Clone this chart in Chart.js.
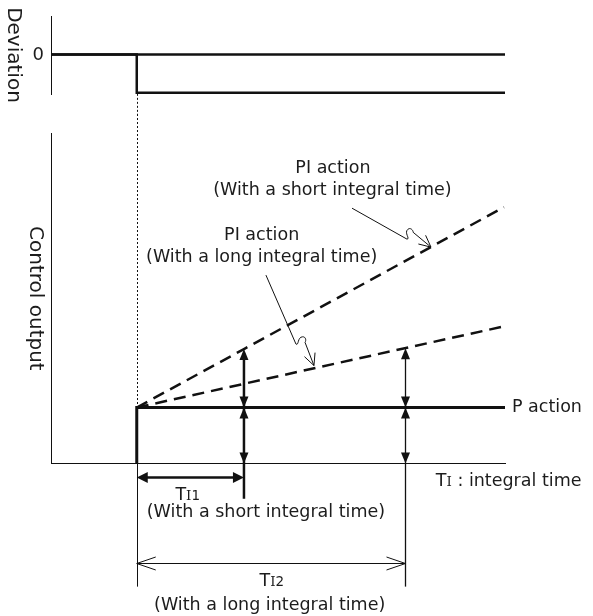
<!DOCTYPE html>
<html>
<head>
<meta charset="utf-8">
<script src="https://cdn.jsdelivr.net/npm/chart.js@4.4.1/dist/chart.umd.min.js"></script>
<style>
  html, body { margin: 0; padding: 0; background: #fff; }
  #wrap { position: relative; width: 593px; height: 616px; }
  canvas { position: absolute; left: 0; }
  #devChart { top: 0; }
  #outChart { top: 114px; }
</style>
</head>
<body>
<div id="wrap">
  <canvas id="devChart" width="593" height="114"></canvas>
  <canvas id="outChart" width="593" height="502"></canvas>
</div>
<script>
// Time axis (arbitrary units); the step change happens at t = 0
const timeRange = [-1.6, 6.87];
const stepTime = 0;
const integralTimes = [2, 5];            // TI1 (short), TI2 (long)

// Deviation panel
const deviationRange = [-1.03, 1.0];
const deviationTicks = [0];
const zeroLevel = [{ x: -1.6, y: 0 }, { x: 6.87, y: 0 }];
const deviation = [{ x: -1.6, y: 0 }, { x: 0, y: 0 }, { x: 0, y: -1 }, { x: 6.87, y: -1 }];

// Control output panel
const outputRange = [0, 5.9];
const pAction = [{ x: 0, y: 0 }, { x: 0, y: 1 }, { x: 6.87, y: 1 }];
const piShort = [{ x: 0, y: 1 }, { x: 2, y: 2.045 }, { x: 6.85, y: 4.58 }];
const piLong = [{ x: 0, y: 1 }, { x: 5, y: 2.06 }, { x: 6.85, y: 2.45 }];

const INK = '#111';
const TEXT = '#1c1c1c';
const FACE = '"DejaVu Sans", "Liberation Sans", sans-serif';
const SERIF = '"DejaVu Serif", "Liberation Serif", serif';
const LABEL = '17.5px ' + FACE;

function outputAt(series, t) {
  const p = series.find(d => d.x === t);
  return p ? p.y : null;
}

function filledHead(ctx, x, y, dir, len, half) {
  // tip at (x, y); dir = unit vector the head points to
  const bx = x - dir[0] * len, by = y - dir[1] * len;
  const nx = -dir[1], ny = dir[0];
  ctx.beginPath();
  ctx.moveTo(x, y);
  ctx.lineTo(bx + nx * half, by + ny * half);
  ctx.lineTo(bx - nx * half, by - ny * half);
  ctx.closePath();
  ctx.fill();
}

function openHead(ctx, x, y, dir, len, half) {
  const bx = x - dir[0] * len, by = y - dir[1] * len;
  const nx = -dir[1], ny = dir[0];
  ctx.beginPath();
  ctx.moveTo(bx + nx * half, by + ny * half);
  ctx.lineTo(x, y);
  ctx.lineTo(bx - nx * half, by - ny * half);
  ctx.stroke();
}

function line(ctx, x1, y1, x2, y2, w, dash) {
  ctx.save();
  ctx.lineWidth = w;
  if (dash) ctx.setLineDash(dash);
  ctx.beginPath();
  ctx.moveTo(x1, y1);
  ctx.lineTo(x2, y2);
  ctx.stroke();
  ctx.restore();
}

// "T" with a small serif "I" and optional index, e.g. TI1
function tiLabel(ctx, cx, cy, sub, rest, align) {
  const parts = [
    { t: 'T', f: LABEL },
    { t: 'I', f: '13.5px ' + SERIF },
  ];
  if (sub) parts.push({ t: sub, f: '13.5px ' + FACE });
  if (rest) parts.push({ t: rest, f: LABEL });
  let total = 0;
  parts.forEach(p => { ctx.font = p.f; p.w = ctx.measureText(p.t).width; total += p.w; });
  let x = align === 'left' ? cx : cx - total / 2;
  ctx.textAlign = 'left';
  ctx.textBaseline = 'alphabetic';
  const base = cy + 6.5;
  parts.forEach(p => { ctx.font = p.f; ctx.fillText(p.t, x, base); x += p.w; });
}

// leader line with a small zig-zag kink and an open arrow head at the tip
function leader(ctx, p0, q, p1) {
  const dx = q[0] - p0[0], dy = q[1] - p0[1];
  const L = Math.hypot(dx, dy);
  const d = [dx / L, dy / L];
  const n = [d[1], -d[0]];
  const P = (a, b) => [q[0] + d[0] * a + n[0] * b, q[1] + d[1] * a + n[1] * b];
  const c1 = P(3, 2), c2 = P(-6, 4), k = P(-4, 9);
  const c3 = P(-3, 12), c4 = P(1, 11), k2 = P(2, 9);
  ctx.save();
  ctx.lineWidth = 1;
  ctx.beginPath();
  ctx.moveTo(p0[0], p0[1]);
  ctx.lineTo(q[0], q[1]);
  ctx.bezierCurveTo(c1[0], c1[1], c2[0], c2[1], k[0], k[1]);
  ctx.bezierCurveTo(c3[0], c3[1], c4[0], c4[1], k2[0], k2[1]);
  ctx.lineTo(p1[0], p1[1]);
  ctx.stroke();
  const ex = p1[0] - k2[0], ey = p1[1] - k2[1];
  const el = Math.hypot(ex, ey);
  const e = [ex / el, ey / el];
  const h = 13, a = 0.45;
  const back = s => [p1[0] - h * (e[0] * Math.cos(s) - e[1] * Math.sin(s)),
                     p1[1] - h * (e[1] * Math.cos(s) + e[0] * Math.sin(s))];
  const l = back(a), r = back(-a);
  ctx.beginPath();
  ctx.moveTo(l[0], l[1]);
  ctx.lineTo(p1[0], p1[1]);
  ctx.lineTo(r[0], r[1]);
  ctx.stroke();
  ctx.restore();
}

const baseOptions = (padding) => ({
  responsive: false,
  animation: false,
  events: [],
  layout: { padding },
  plugins: { legend: { display: false }, tooltip: { enabled: false } },
  elements: { point: { radius: 0 }, line: { tension: 0 } }
});

// ---------- Deviation panel ----------
const deviationDecor = {
  id: 'deviationDecor',
  afterDraw(chart) {
    const { ctx, chartArea, scales } = chart;
    ctx.save();
    ctx.fillStyle = TEXT;
    ctx.strokeStyle = INK;
    // onset marker, continued into the output panel
    const x0 = Math.round(scales.x.getPixelForValue(stepTime)) + 0.5;
    line(ctx, x0, scales.y.getPixelForValue(-1) + 1, x0, chart.height, 1, [2, 2]);
    // tick labels
    ctx.font = '18px ' + FACE;
    ctx.textAlign = 'right';
    ctx.textBaseline = 'middle';
    deviationTicks.forEach(v => ctx.fillText(String(v), chartArea.left - 7, scales.y.getPixelForValue(v) + 1));
    // axis title, reading top to bottom
    ctx.translate(13, (chartArea.top + chartArea.bottom) / 2);
    ctx.rotate(Math.PI / 2);
    ctx.font = '20px ' + FACE;
    ctx.textAlign = 'center';
    ctx.textBaseline = 'middle';
    ctx.fillText('Deviation', 0, 0);
    ctx.restore();
  }
};

new Chart(document.getElementById('devChart'), {
  type: 'line',
  data: {
    datasets: [
      { data: zeroLevel, borderColor: INK, borderWidth: 2.5, clip: false },
      { data: deviation, borderColor: INK, borderWidth: 2.5, clip: false }
    ]
  },
  options: Object.assign(baseOptions({ left: 51, right: 88, top: 16, bottom: 20 }), {
    scales: {
      x: { type: 'linear', min: timeRange[0], max: timeRange[1], display: false },
      y: {
        type: 'linear', min: deviationRange[0], max: deviationRange[1],
        afterFit: s => { s.width = 0; },
        grid: { display: false, drawTicks: false },
        border: { display: true, color: INK, width: 1 },
        ticks: { display: false }
      }
    }
  }),
  plugins: [deviationDecor]
});

// ---------- Control output panel ----------
const outputDecor = {
  id: 'outputDecor',
  afterDraw(chart) {
    const { ctx, chartArea, scales } = chart;
    const X = v => scales.x.getPixelForValue(v);
    const Y = v => scales.y.getPixelForValue(v);
    ctx.save();
    ctx.fillStyle = INK;
    ctx.strokeStyle = INK;

    const x0 = Math.round(X(stepTime)) + 0.5;
    // onset marker from the top of the panel down to the P step
    line(ctx, x0, 0, x0, Y(1) - 2, 1, [2, 2]);
    // extension line below the time axis
    line(ctx, x0, Y(0), x0, Y(-2.2), 1);

    // TI1: output doubled after the short integral time
    const [ti1, ti2] = integralTimes;
    const top1 = outputAt(piShort, ti1);
    const x1 = X(ti1);
    line(ctx, x1, Y(top1) + 4, x1, Y(-0.63), 2.5);
    filledHead(ctx, x1, Y(0), [0, 1], 11, 4.5);
    filledHead(ctx, x1, Y(1), [0, -1], 11, 4.5);
    filledHead(ctx, x1, Y(1), [0, 1], 11, 4.5);
    filledHead(ctx, x1, Y(top1), [0, -1], 11, 4.5);
    // TI1 dimension
    const yd1 = Y(-0.25);
    line(ctx, X(stepTime) + 6, yd1, x1 - 6, yd1, 2.5);
    filledHead(ctx, X(stepTime), yd1, [-1, 0], 11, 5.5);
    filledHead(ctx, x1, yd1, [1, 0], 11, 5.5);

    // TI2: output doubled after the long integral time
    const top2 = outputAt(piLong, ti2);
    const x2 = Math.round(X(ti2)) + 0.5;
    line(ctx, x2, Y(top2) + 4, x2, Y(-2.2), 1.3);
    filledHead(ctx, x2, Y(0), [0, 1], 11, 4.5);
    filledHead(ctx, x2, Y(1), [0, -1], 11, 4.5);
    filledHead(ctx, x2, Y(1), [0, 1], 11, 4.5);
    filledHead(ctx, x2, Y(top2), [0, -1], 11, 4.5);
    // TI2 dimension
    const yd2 = Math.round(Y(-1.78)) + 0.5;
    line(ctx, X(stepTime), yd2, x2, yd2, 1);
    ctx.lineWidth = 1;
    openHead(ctx, X(stepTime), yd2, [-1, 0], 19, 6.5);
    openHead(ctx, x2, yd2, [1, 0], 19, 6.5);

    // leaders from the labels to the PI curves
    leader(ctx, [X(4.016), Y(4.562)], [X(5.041), Y(4.009)], [X(5.489), Y(3.866)]);
    leader(ctx, [X(2.41), Y(3.366)], [X(2.97), Y(2.134)], [X(3.306), Y(1.75)]);

    // labels
    ctx.fillStyle = TEXT;
    ctx.font = LABEL;
    ctx.textAlign = 'center';
    ctx.textBaseline = 'middle';
    ctx.fillText('PI action', X(3.66), Y(5.28));
    ctx.fillText('(With a short integral time)', X(3.65), Y(4.88));
    ctx.fillText('PI action', X(2.33), Y(4.08));
    ctx.fillText('(With a long integral time)', X(2.33), Y(3.69));
    ctx.fillText('(With a short integral time)', X(2.41), Y(-0.88));
    ctx.fillText('(With a long integral time)', X(2.48), Y(-2.53));
    ctx.textAlign = 'left';
    ctx.fillText('P action', X(7.0), Y(1));

    tiLabel(ctx, X(0.95), Y(-0.53), '1', null, 'center');
    tiLabel(ctx, X(2.52), Y(-2.08), '2', null, 'center');
    tiLabel(ctx, X(5.58), Y(-0.29), null, ' : integral time', 'left');

    // axis title, reading top to bottom
    ctx.translate(35, (chartArea.top + chartArea.bottom) / 2);
    ctx.rotate(Math.PI / 2);
    ctx.font = '20px ' + FACE;
    ctx.textAlign = 'center';
    ctx.textBaseline = 'middle';
    ctx.fillText('Control output', 0, 0);
    ctx.restore();
  }
};

new Chart(document.getElementById('outChart'), {
  type: 'line',
  data: {
    datasets: [
      { data: piShort, borderColor: INK, borderWidth: 2.5, borderDash: [12, 7], clip: false },
      { data: piLong, borderColor: INK, borderWidth: 2.5, borderDash: [12, 7], clip: false },
      { data: pAction, borderColor: INK, borderWidth: 3, clip: false }
    ]
  },
  options: Object.assign(baseOptions({ left: 51, right: 88, top: 19.3, bottom: 152.5 }), {
    scales: {
      x: {
        type: 'linear', min: timeRange[0], max: timeRange[1],
        afterFit: s => { s.height = 0; },
        grid: { display: false, drawTicks: false },
        border: { display: true, color: INK, width: 1 },
        ticks: { display: false }
      },
      y: {
        type: 'linear', min: outputRange[0], max: outputRange[1],
        afterFit: s => { s.width = 0; },
        grid: { display: false, drawTicks: false },
        border: { display: true, color: INK, width: 1 },
        ticks: { display: false }
      }
    }
  }),
  plugins: [outputDecor]
});
</script>
</body>
</html>
